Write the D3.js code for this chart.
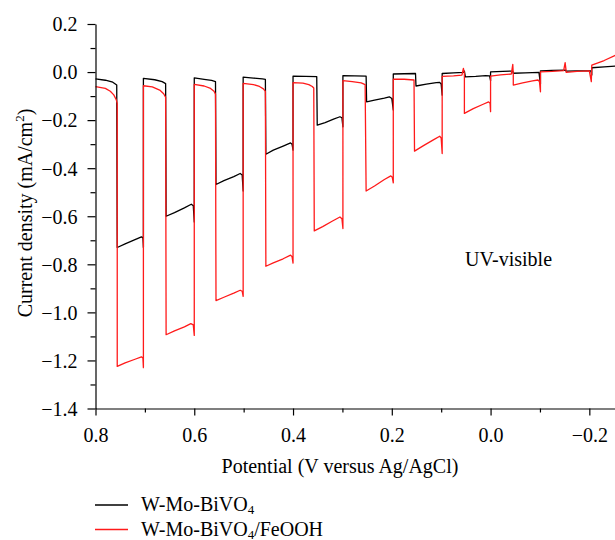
<!DOCTYPE html>
<html>
<head>
<meta charset="utf-8">
<script src="https://cdn.jsdelivr.net/npm/d3@7/dist/d3.min.js"></script>
<style>
  html, body { margin: 0; padding: 0; background: #fff; }
  svg { display: block; }
  text { font-family: "Liberation Serif", "Times New Roman", serif; fill: #000; }
</style>
</head>
<body>
<svg id="chart" width="615" height="540"></svg>
<script>
// ---- data (potential V vs Ag/AgCl, current density mA/cm^2) ----
const seriesNames = ["W-Mo-BiVO", "W-Mo-BiVO"];
const seriesColors = ["#000000", "#ff1a1a"];

const blackPoints = [
  [0.800,-0.028],[0.780,-0.034],[0.765,-0.042],[0.757,-0.054],
  [0.756,-0.730],[0.740,-0.715],[0.720,-0.697],[0.707,-0.686],[0.704,-0.690],[0.703,-0.730],
  [0.703,-0.026],[0.680,-0.032],[0.665,-0.040],[0.658,-0.048],
  [0.657,-0.600],[0.640,-0.585],[0.620,-0.565],[0.606,-0.550],[0.602,-0.556],[0.600,-0.624],
  [0.600,-0.024],[0.580,-0.030],[0.565,-0.035],[0.557,-0.040],
  [0.556,-0.468],[0.540,-0.452],[0.520,-0.435],[0.507,-0.422],[0.503,-0.428],[0.501,-0.495],
  [0.501,-0.021],[0.480,-0.025],[0.462,-0.028],[0.456,-0.030],
  [0.455,-0.342],[0.440,-0.325],[0.420,-0.308],[0.405,-0.295],[0.402,-0.300],[0.400,-0.325],
  [0.400,-0.017],[0.375,-0.018],[0.352,-0.019],
  [0.351,-0.221],[0.335,-0.210],[0.318,-0.196],[0.305,-0.186],[0.301,-0.190],[0.299,-0.228],
  [0.299,-0.015],[0.275,-0.016],[0.252,-0.017],
  [0.251,-0.124],[0.235,-0.117],[0.215,-0.108],[0.205,-0.103],[0.200,-0.110],[0.197,-0.158],
  [0.197,-0.008],[0.175,-0.007],[0.152,-0.006],
  [0.151,-0.058],[0.130,-0.050],[0.110,-0.044],[0.103,-0.043],[0.100,-0.050],[0.098,-0.096],
  [0.098,-0.006],[0.075,-0.003],[0.055,-0.001],[0.053,0.004],
  [0.051,-0.020],[0.030,-0.018],[0.010,-0.015],[0.002,-0.016],[0.000,-0.036],
  [0.000,0.001],[-0.025,0.003],[-0.045,0.004],
  [-0.046,-0.005],[-0.070,-0.003],[-0.098,-0.001],[-0.101,-0.050],
  [-0.101,0.005],[-0.125,0.007],[-0.152,0.008],
  [-0.153,0.004],[-0.175,0.005],[-0.203,0.005],[-0.205,-0.012],
  [-0.205,0.018],[-0.230,0.022],[-0.254,0.025]
];

const redPoints = [
  [0.800,-0.061],[0.780,-0.068],[0.770,-0.080],[0.763,-0.095],[0.758,-0.115],[0.756,-0.130],
  [0.756,-1.225],[0.740,-1.210],[0.720,-1.195],[0.707,-1.185],[0.704,-1.190],[0.703,-1.230],
  [0.703,-0.057],[0.685,-0.062],[0.670,-0.075],[0.662,-0.090],[0.658,-0.105],
  [0.657,-1.093],[0.640,-1.077],[0.620,-1.060],[0.607,-1.047],[0.602,-1.052],[0.600,-1.096],
  [0.600,-0.051],[0.580,-0.058],[0.567,-0.068],[0.560,-0.080],[0.557,-0.092],
  [0.556,-0.951],[0.540,-0.937],[0.520,-0.920],[0.507,-0.908],[0.503,-0.912],[0.501,-0.933],
  [0.501,-0.047],[0.480,-0.052],[0.468,-0.060],[0.460,-0.070],[0.456,-0.080],
  [0.455,-0.808],[0.440,-0.794],[0.420,-0.777],[0.405,-0.762],[0.402,-0.768],[0.400,-0.795],
  [0.400,-0.044],[0.380,-0.046],[0.368,-0.052],[0.361,-0.060],[0.358,-0.066],
  [0.357,-0.661],[0.340,-0.643],[0.320,-0.620],[0.305,-0.603],[0.301,-0.610],[0.299,-0.651],
  [0.299,-0.036],[0.280,-0.040],[0.262,-0.045],[0.254,-0.052],
  [0.252,-0.495],[0.235,-0.474],[0.215,-0.447],[0.202,-0.432],[0.199,-0.438],[0.197,-0.461],
  [0.197,-0.029],[0.175,-0.030],[0.155,-0.033],
  [0.154,-0.329],[0.135,-0.305],[0.115,-0.281],[0.103,-0.267],[0.100,-0.275],[0.098,-0.339],
  [0.098,-0.018],[0.075,-0.016],[0.058,-0.013],[0.055,0.015],[0.053,-0.005],
  [0.053,-0.172],[0.035,-0.152],[0.015,-0.134],[0.004,-0.124],[0.001,-0.130],[0.000,-0.165],
  [0.000,-0.017],[-0.020,-0.012],[-0.042,-0.008],[-0.045,0.032],[-0.046,-0.010],
  [-0.046,-0.054],[-0.065,-0.045],[-0.085,-0.037],[-0.096,-0.033],[-0.099,-0.040],[-0.101,-0.082],
  [-0.101,0.001],[-0.125,0.003],[-0.148,0.006],[-0.151,0.039],[-0.153,0.005],
  [-0.153,-0.001],[-0.175,0.003],[-0.200,0.005],[-0.204,-0.040],
  [-0.205,0.029],[-0.230,0.048],[-0.254,0.071]
];

const xTickValues = [0.8, 0.6, 0.4, 0.2, 0.0, -0.2];
const xMinorValues = [0.7, 0.5, 0.3, 0.1, -0.1];
const yTickValues = [0.2, 0.0, -0.2, -0.4, -0.6, -0.8, -1.0, -1.2, -1.4];
const yMinorValues = [0.1, -0.1, -0.3, -0.5, -0.7, -0.9, -1.1, -1.3];

// ---- layout ----
const svg = d3.select("#chart");
const mLeft = 95.5, mRight = 616, mTop = 24, mBottom = 408.5;
const FS = "20px";

const x = d3.scaleLinear().domain([0.8, -0.254]).range([mLeft, mRight]);
const y = d3.scaleLinear().domain([-1.4, 0.2]).range([mBottom, mTop]);

const fmt = v => {
  const s = Math.abs(v).toFixed(1);
  return (v < -1e-9 ? "\u2212" : "") + s;
};

// lines
const line = d3.line().x(d => x(d[0])).y(d => y(d[1]));
[blackPoints, redPoints].forEach((pts, i) => {
  svg.append("path")
    .datum(pts)
    .attr("fill", "none")
    .attr("stroke", seriesColors[i])
    .attr("stroke-width", 1.3)
    .attr("stroke-linejoin", "round")
    .attr("d", line);
});

// axes
const xAxis = svg.append("g").attr("transform", `translate(0,${mBottom})`)
  .call(d3.axisBottom(x).tickValues(xTickValues).tickFormat(fmt).tickSize(7).tickSizeOuter(0));
svg.append("g").attr("transform", `translate(0,${mBottom})`)
  .call(d3.axisBottom(x).tickValues(xMinorValues).tickFormat("").tickSize(4).tickSizeOuter(0))
  .select(".domain").remove();
const yAxis = svg.append("g").attr("transform", `translate(${mLeft},0)`)
  .call(d3.axisLeft(y).tickValues(yTickValues).tickFormat(fmt).tickSize(8).tickSizeOuter(0));
svg.append("g").attr("transform", `translate(${mLeft},0)`)
  .call(d3.axisLeft(y).tickValues(yMinorValues).tickFormat("").tickSize(5).tickSizeOuter(0))
  .select(".domain").remove();

svg.selectAll("g").attr("font-family", null).attr("font-size", null);
svg.selectAll(".domain, .tick line").attr("stroke", "#000").attr("stroke-width", 1.2);
svg.selectAll(".tick text")
  .style("font-family", '"Liberation Serif", serif')
  .style("font-size", FS).attr("fill", "#000");
xAxis.selectAll(".tick text").attr("y", 33).attr("dy", 0);
yAxis.selectAll(".tick text").attr("x", -18).attr("dy", "0.34em");

// axis titles
svg.append("text")
  .attr("x", 340).attr("y", 473)
  .attr("text-anchor", "middle")
  .style("font-size", FS)
  .text("Potential (V versus Ag/AgCl)");

const yt = svg.append("text")
  .attr("transform", `translate(32,213) rotate(-90)`)
  .attr("text-anchor", "middle")
  .style("font-size", FS);
yt.append("tspan").text("Current density (mA/cm");
yt.append("tspan").attr("dy", -8).style("font-size", "13px").text("2");
yt.append("tspan").attr("dy", 8).text(")");

// annotation
svg.append("text").attr("x", 465).attr("y", 266)
  .style("font-size", FS).text("UV-visible");

// legend
const legendY = [505, 529.5];
const legendSuffix = ["", "/FeOOH"];
legendY.forEach((ly, i) => {
  svg.append("line").attr("x1", 95).attr("x2", 128).attr("y1", ly).attr("y2", ly)
    .attr("stroke", seriesColors[i]).attr("stroke-width", 1.3);
  const t = svg.append("text").attr("x", 141).attr("y", ly + 6).style("font-size", FS);
  t.append("tspan").text(seriesNames[i]);
  t.append("tspan").attr("dy", 3).style("font-size", "13px").text("4");
  if (legendSuffix[i]) t.append("tspan").attr("dy", -3).text(legendSuffix[i]);
});
</script>
</body>
</html>
